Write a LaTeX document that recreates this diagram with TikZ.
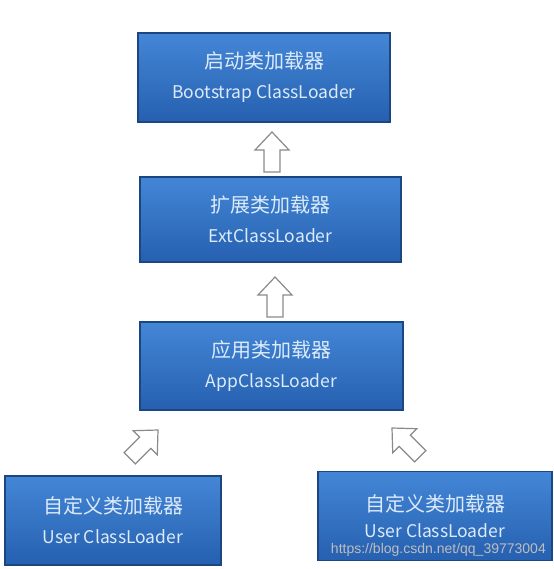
\documentclass[tikz,border=0pt]{standalone}
\usepackage{fontspec}
\setmainfont{Noto Sans CJK SC}
\newfontfamily\wmfont{Liberation Sans}
\usetikzlibrary{calc}
\definecolor{boxtop}{HTML}{4486D6}
\definecolor{boxbot}{HTML}{2660B0}
\definecolor{boxedge}{HTML}{1C4680}
\definecolor{boxtext}{HTML}{DCEBFA}
\definecolor{arrowedge}{HTML}{8A8A8A}
\definecolor{wmgray}{HTML}{BDBDBD}
\newcommand\blockarrow[2]{%
  \draw[hollow, shift={#1}, rotate=#2]
    (0,0) -- (17,18) -- (8,18) -- (8,40) -- (-8,40) -- (-8,18) -- (-17,18) -- cycle;}
\begin{document}
\begin{tikzpicture}[x=1pt,y=-1pt,
  box/.style={draw=boxedge, line width=1.3pt, top color=boxtop, bottom color=boxbot,
    align=center, text=boxtext, inner sep=0pt, font=\fontsize{17.5}{30}\selectfont},
  hollow/.style={draw=arrowedge, fill=white, line width=1.2pt, line join=miter}
]
\useasboundingbox (0,0) rectangle (553,569);
\node[box, minimum width=252pt, minimum height=89pt] (b1) at (264,77.5)
  {{\fontsize{20}{30}\selectfont 启动类加载器}\\Bootstrap ClassLoader};
\node[box, minimum width=261pt, minimum height=85pt] (b2) at (270.5,219.5)
  {{\fontsize{20}{30}\selectfont 扩展类加载器}\\ExtClassLoader};
\node[box, minimum width=263pt, minimum height=88pt] (b3) at (271.5,366)
  {{\fontsize{20}{30}\selectfont 应用类加载器}\\AppClassLoader};
\node[box, minimum width=216pt, minimum height=89pt] (b4) at (113,520.5)
  {{\fontsize{20}{30}\selectfont 自定义类加载器}\\User ClassLoader};
\node[box, minimum width=234pt, minimum height=89pt, font=\fontsize{17.5}{26}\selectfont] (b5) at (435,516)
  {{\fontsize{20}{26}\selectfont 自定义类加载器}\\User ClassLoader};
\blockarrow{(272,132)}{0}
\blockarrow{(275,277)}{0}
\blockarrow{(158,430)}{-45}
\blockarrow{(392,428)}{45}
\node[anchor=east, text=wmgray, font=\wmfont\fontsize{14}{16}\selectfont, inner sep=0pt] (wm) at (546,550) {https://blog.csdn.net/qq\_39773004};
\end{tikzpicture}
\end{document}
